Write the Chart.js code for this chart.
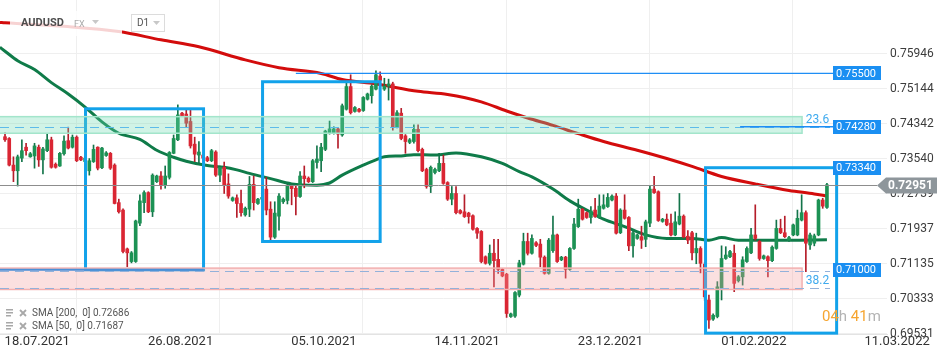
<!DOCTYPE html>
<html>
<head>
<meta charset="utf-8">
<script src="https://cdn.jsdelivr.net/npm/chart.js@4.4.1/dist/chart.umd.min.js"></script>
<style>
  html, body { margin: 0; padding: 0; background: #fff; }
  #wrap { width: 950px; height: 360px; }
</style>
</head>
<body>
<div id="wrap"><canvas id="chart" width="950" height="360"></canvas></div>
<script>
// ---------------- DATA (AUDUSD, D1) ----------------
const opens = [
  .7405,.7401,.7340,.7327,.7356,.7381,.7359,.7361,.7381,.7352,
  .7373,.7398,.7342,.7338,.7366,.7396,.7381,.7404,.7358,.7348,
  .7327,.7348,.7381,.7334,.7362,.7367,.7340,.7254,.7237,.7148,
  .7119,.7119,.7207,.7254,.7277,.7233,.7302,.7315,.7295,.7312,
  .7367,.7398,.7459,.7457,.7440,.7388,.7363,.7363,.7357,.7350,
  .7370,.7317,.7335,.7297,.7259,.7265,.7252,.7226,.7239,.7296,
  .7252,.7262,.7285,.7239,.7175,.7223,.7256,.7259,.7292,.7287,
  .7268,.7315,.7310,.7302,.7346,.7350,.7376,.7414,.7414,.7423,
  .7409,.7468,.7520,.7463,.7468,.7465,.7491,.7499,.7514,.7544,
  .7514,.7521,.7526,.7428,.7459,.7407,.7392,.7394,.7422,.7376,
  .7330,.7291,.7323,.7327,.7344,.7300,.7262,.7275,.7236,.7233,
  .7230,.7224,.7195,.7188,.7130,.7115,.7138,.7124,.7101,.7090,
  .6993,.6994,.7042,.7113,.7165,.7138,.7162,.7159,.7129,.7092,
  .7144,.7180,.7123,.7129,.7101,.7149,.7199,.7239,.7231,.7220,
  .7237,.7220,.7241,.7245,.7260,.7269,.7185,.7237,.7220,.7155,
  .7172,.7176,.7170,.7207,.7285,.7279,.7211,.7216,.7207,.7180,
  .7205,.7223,.7177,.7185,.7139,.7149,.7113,.7031,.6987,.6993,
  .7058,.7126,.7130,.7138,.7075,.7084,.7119,.7139,.7180,.7165,
  .7126,.7130,.7121,.7149,.7195,.7185,.7168,.7180,.7180,.7214,
  .7231,.7157,.7161,.7180,.7260,.7243
];
const highs = [
  .7414,.7403,.7359,.7363,.7398,.7390,.7369,.7390,.7386,.7381,
  .7411,.7404,.7345,.7369,.7407,.7427,.7409,.7407,.7360,.7360,
  .7355,.7386,.7382,.7381,.7371,.7369,.7343,.7262,.7240,.7150,
  .7142,.7214,.7272,.7281,.7279,.7320,.7317,.7325,.7338,.7371,
  .7409,.7478,.7461,.7466,.7466,.7404,.7394,.7366,.7360,.7376,
  .7373,.7338,.7347,.7320,.7267,.7272,.7283,.7244,.7314,.7315,
  .7264,.7290,.7312,.7256,.7256,.7275,.7265,.7298,.7294,.7292,
  .7325,.7338,.7313,.7353,.7384,.7390,.7420,.7441,.7428,.7425,
  .7480,.7528,.7547,.7474,.7470,.7497,.7505,.7524,.7556,.7554,
  .7539,.7537,.7530,.7465,.7470,.7410,.7401,.7432,.7432,.7379,
  .7333,.7338,.7333,.7367,.7363,.7302,.7291,.7291,.7238,.7272,
  .7232,.7226,.7197,.7190,.7132,.7157,.7170,.7170,.7103,.7092,
  .7001,.7050,.7122,.7184,.7184,.7180,.7165,.7170,.7132,.7172,
  .7223,.7182,.7131,.7131,.7151,.7218,.7262,.7241,.7233,.7245,
  .7264,.7272,.7272,.7275,.7272,.7275,.7240,.7272,.7222,.7188,
  .7182,.7200,.7214,.7292,.7314,.7281,.7218,.7228,.7228,.7233,
  .7275,.7226,.7190,.7188,.7184,.7153,.7117,.7042,.6999,.7073,
  .7155,.7153,.7145,.7157,.7087,.7130,.7153,.7195,.7249,.7168,
  .7134,.7132,.7155,.7214,.7216,.7223,.7177,.7205,.7237,.7272,
  .7235,.7184,.7182,.7262,.7264,.7298
];
const lows = [
  .7394,.7338,.7302,.7292,.7348,.7363,.7358,.7333,.7337,.7320,
  .7371,.7333,.7333,.7337,.7363,.7377,.7379,.7348,.7350,.7345,
  .7317,.7346,.7329,.7332,.7360,.7330,.7251,.7230,.7139,.7107,
  .7116,.7117,.7201,.7231,.7231,.7222,.7300,.7285,.7287,.7308,
  .7366,.7396,.7451,.7428,.7379,.7348,.7344,.7354,.7348,.7348,
  .7314,.7302,.7275,.7264,.7257,.7220,.7223,.7223,.7222,.7237,
  .7250,.7255,.7226,.7168,.7172,.7191,.7252,.7251,.7249,.7226,
  .7266,.7288,.7300,.7300,.7333,.7325,.7373,.7411,.7411,.7379,
  .7406,.7466,.7457,.7461,.7461,.7463,.7489,.7482,.7512,.7520,
  .7511,.7489,.7420,.7425,.7398,.7367,.7389,.7390,.7370,.7325,
  .7287,.7277,.7320,.7325,.7296,.7259,.7249,.7228,.7228,.7220,
  .7207,.7191,.7172,.7116,.7113,.7111,.7061,.7092,.7084,.6991,
  .6991,.6991,.7038,.7111,.7134,.7136,.7153,.7107,.7090,.7090,
  .7140,.7117,.7121,.7081,.7099,.7147,.7197,.7214,.7218,.7207,
  .7220,.7218,.7239,.7243,.7258,.7182,.7183,.7216,.7144,.7129,
  .7170,.7149,.7153,.7199,.7275,.7211,.7209,.7201,.7178,.7178,
  .7203,.7173,.7160,.7123,.7114,.7093,.7030,.6966,.6984,.6990,
  .7031,.7124,.7128,.7050,.7072,.7065,.7117,.7137,.7168,.7122,
  .7124,.7084,.7119,.7147,.7183,.7174,.7165,.7178,.7178,.7212,
  .7096,.7147,.7155,.7178,.7241,.7241
];
const closes = [
  .7398,.7340,.7327,.7359,.7373,.7373,.7366,.7384,.7352,.7377,
  .7398,.7335,.7335,.7367,.7395,.7379,.7404,.7350,.7352,.7356,
  .7350,.7376,.7333,.7379,.7368,.7333,.7252,.7233,.7142,.7139,
  .7139,.7212,.7258,.7277,.7233,.7317,.7315,.7295,.7315,.7369,
  .7401,.7455,.7453,.7436,.7384,.7365,.7370,.7356,.7350,.7373,
  .7317,.7335,.7295,.7269,.7265,.7252,.7231,.7241,.7296,.7254,
  .7262,.7266,.7237,.7175,.7230,.7269,.7262,.7292,.7286,.7268,
  .7315,.7309,.7302,.7350,.7354,.7381,.7418,.7423,.7423,.7411,
  .7476,.7520,.7460,.7472,.7463,.7495,.7503,.7521,.7547,.7534,
  .7521,.7526,.7428,.7460,.7401,.7394,.7398,.7422,.7373,.7327,
  .7291,.7335,.7330,.7344,.7298,.7262,.7275,.7231,.7230,.7222,
  .7222,.7193,.7184,.7119,.7115,.7138,.7121,.7101,.7086,.7000,
  .6999,.7048,.7116,.7165,.7138,.7172,.7156,.7129,.7092,.7168,
  .7180,.7119,.7129,.7101,.7149,.7205,.7239,.7216,.7220,.7235,
  .7222,.7246,.7249,.7266,.7269,.7184,.7237,.7218,.7155,.7185,
  .7180,.7168,.7210,.7285,.7277,.7213,.7216,.7203,.7180,.7210,
  .7223,.7175,.7168,.7139,.7149,.7115,.7038,.6985,.6996,.7061,
  .7126,.7134,.7142,.7069,.7084,.7123,.7149,.7180,.7172,.7126,
  .7132,.7121,.7152,.7195,.7185,.7176,.7174,.7203,.7218,.7231,
  .7161,.7180,.7178,.7260,.7246,.7295
];

// moving averages, read at [candle index, value]
const sma200 = [
  [-1.2,.7667],[0,.7666],[14,.7658],[27,.7646],[37,.7627],[46,.7611],[57,.7581],
  [65,.7563],[75,.7550],[80,.7536],[88,.7526],[98,.7509],[105,.7502],[113,.7485],
  [119,.7464],[124,.7448],[130,.7431],[136,.7412],[142,.7394],[150,.7374],[157,.7355],
  [163,.7337],[170,.7314],[178,.7297],[186,.7282],[192,.7274],[195,.7269]
];
const sma50 = [
  [-1.2,.7610],[0,.7601],[3,.7579],[7,.7559],[11,.7529],[15,.7503],[19,.7473],[23,.7439],
  [27,.7413],[32,.7399],[36,.7374],[40,.7358],[43,.7349],[48,.7339],[52,.7335],[55,.7329],
  [58,.7321],[63,.7309],[68,.7297],[74,.7294],[77,.7299],[80,.7317],[85,.7340],[88,.7352],
  [90,.7359],[94,.7361],[97,.7364],[102,.7363],[107,.7368],[113,.7359],[118,.7344],
  [122,.7325],[125,.7313],[130,.7285],[134,.7258],[138,.7237],[142,.7216],[147,.7199],
  [152,.7180],[157,.7172],[163,.7172],[167,.7168],[170,.7174],[174,.7168],[178,.7168],
  [186,.7168],[195,.7169]
];

const dateLabels = ["18.07.2021","26.08.2021","05.10.2021","14.11.2021","23.12.2021","01.02.2022","11.03.2022"];
const dateTicks = [-0.1, 33.9, 67.9, 101.9, 135.9, 169.9, 203.9];
const priceTicks = [0.69531,0.70333,0.71135,0.71937,0.72739,0.73540,0.74342,0.75144,0.75946];
const priceLabels = ["0.69531","0.70333","0.71135","0.71937","0.72739","0.73540","0.74342","0.75144","0.75946"];

// drawn objects: boxes [from idx, to idx, low, high], zones [low, high]
const boxes = [[19.1, 47.1, 0.7100, 0.7469], [61.1, 89.0, 0.7165, 0.7531], [166.2, 197.3, 0.6955, 0.7334]];
const zoneGreen = [0.7413, 0.7451];
const zoneRed = [0.7055, 0.7104];
const zoneEnd = 189.1;
const levels = [0.7550, 0.7428, 0.7334, 0.7100];
const levelLabels = ["0.75500", "0.74280", "0.73340", "0.71000"];
const levelFrom = [69.0, 174.4, null, null];
const fibLevels = [0.7428, 0.7059];
const fibLabels = ["23.6", "38.2"];
const lastPrice = 0.72951;
const smaLegend = ["SMA [200,  0] 0.72686", "SMA [50,  0] 0.71687"];

// ---------------- BUILD ----------------
const idx = opens.map((_, i) => i);
const isUp = idx.map(i => closes[i] >= opens[i]);
const UP = "#1c9254", DOWN = "#da2633", WICK_UP = "#13744a", WICK_DOWN = "#b51d2a";
const FONT = "Roboto";

const overlays = {
  id: "overlays",
  afterDatasetsDraw(chart) {
    const { ctx, chartArea: a, scales: { x: xs, y: ys } } = chart;
    const px = v => xs.getPixelForValue(v), py = v => ys.getPixelForValue(v);
    const tagLeft = a.right - 54;
    ctx.save();

    // blue boxes
    ctx.strokeStyle = "#12a2ea";
    ctx.lineWidth = 3;
    boxes.forEach(([i0, i1, lo, hi]) => {
      ctx.strokeRect(px(i0), py(hi), px(i1) - px(i0), py(lo) - py(hi));
    });

    // zones
    const zr = px(zoneEnd);
    [[zoneGreen, "rgba(110,218,176,0.32)", "#a3e5cb"], [zoneRed, "rgba(244,160,160,0.32)", "#f3b0b0"]].forEach(([z, fill, edge]) => {
      const top = py(z[1]), bot = py(z[0]);
      ctx.fillStyle = fill;
      ctx.fillRect(a.left, top, zr - a.left, bot - top);
      ctx.strokeStyle = edge;
      ctx.lineWidth = 1.5;
      ctx.strokeRect(a.left - 2, top, zr - a.left + 2, bot - top);
    });

    // fib dashed lines
    ctx.lineWidth = 1;
    ctx.setLineDash([9, 6]);
    const hline = (y, x0, x1) => { ctx.beginPath(); ctx.moveTo(x0, y); ctx.lineTo(x1, y); ctx.stroke(); };
    ctx.strokeStyle = "#5dbbe9";
    hline(Math.round(py(fibLevels[0])) + 0.5, a.left, tagLeft - 3);
    ctx.strokeStyle = "#93b1da";
    hline(Math.round(py(fibLevels[1])) + 0.5, a.left, tagLeft - 3);
    hline(Math.round(py(levels[3]) + 1) + 0.5, a.left, tagLeft - 3);
    ctx.setLineDash([]);

    // fib labels
    ctx.font = "12px " + FONT;
    ctx.fillStyle = "#3eaaee";
    ctx.textBaseline = "alphabetic";
    ctx.textAlign = "left";
    fibLabels.forEach((t, k) => ctx.fillText(t, px(190.0), py(fibLevels[k]) - 4));

    // solid level lines
    ctx.strokeStyle = "#1f8ef5";
    ctx.lineWidth = 1.3;
    hline(py(levels[0]), px(levelFrom[0]), tagLeft);
    ctx.lineWidth = 1.5;
    hline(py(levels[1]), px(levelFrom[1]), tagLeft);
    ctx.strokeStyle = "#4a8fd8";
    ctx.lineWidth = 2;
    hline(py(levels[3]), a.left, px(boxes[0][1]));

    // last price line
    ctx.strokeStyle = "#8d8d8d";
    ctx.lineWidth = 1;
    hline(Math.round(py(lastPrice)) + 0.5, a.left, a.right - 10);
    ctx.restore();
  },
  afterDraw(chart) {
    const { ctx, chartArea: a, scales: { y: ys } } = chart;
    const py = v => ys.getPixelForValue(v);
    const tagLeft = a.right - 54;
    ctx.save();

    // level tags
    ctx.font = "11px " + FONT;
    ctx.textBaseline = "middle";
    ctx.textAlign = "left";
    levels.forEach((v, k) => {
      const y = py(v);
      ctx.fillStyle = "#1a8ff2";
      ctx.fillRect(tagLeft, Math.round(y) - 7, 48, 14);
      ctx.fillStyle = "#fff";
      ctx.fillText(levelLabels[k], tagLeft + 3, y + 0.5);
    });

    // last price tag
    const yp = Math.round(py(lastPrice)) + 0.5;
    ctx.fillStyle = "#8e969b";
    ctx.beginPath();
    ctx.moveTo(a.right - 10, yp);
    ctx.lineTo(a.right - 1, yp - 8);
    ctx.lineTo(a.right + 50, yp - 8);
    ctx.lineTo(a.right + 50, yp + 8);
    ctx.lineTo(a.right - 1, yp + 8);
    ctx.closePath();
    ctx.fill();
    ctx.fillStyle = "#fff";
    ctx.font = "bold 12px " + FONT;
    ctx.fillText(lastPrice.toFixed(5), a.right + 1, yp + 0.5);

    // candle timer
    ctx.font = "15px " + FONT;
    ctx.textBaseline = "alphabetic";
    let tx = 822;
    [["04", "#f6a530"], ["h ", "#b3b3b3"], ["41", "#f6a530"], ["m", "#b3b3b3"]].forEach(([t, c]) => {
      ctx.fillStyle = c;
      ctx.fillText(t, tx, 321);
      tx += ctx.measureText(t).width;
    });

    // top-left instrument legend
    ctx.fillStyle = "rgba(255,255,255,0.82)";
    ctx.fillRect(10, 11, 112, 25);
    ctx.textBaseline = "middle";
    ctx.font = "bold 11px " + FONT;
    ctx.fillStyle = "#4d4d4d";
    ctx.fillText("AUDUSD", 21, 23.5);
    ctx.font = "9px " + FONT;
    ctx.fillStyle = "#aaaaaa";
    ctx.fillText("FX", 74, 24.5);
    const tri = (x, y) => { ctx.beginPath(); ctx.moveTo(x, y); ctx.lineTo(x + 7, y); ctx.lineTo(x + 3.5, y + 4); ctx.closePath(); ctx.fill(); };
    ctx.fillStyle = "#c8c8c8";
    tri(92, 20);
    ctx.fillStyle = "#fff";
    ctx.fillRect(131.5, 14.5, 33, 17);
    ctx.strokeStyle = "#dcdcdc";
    ctx.lineWidth = 1;
    ctx.strokeRect(131.5, 14.5, 33, 17);
    ctx.font = "10px " + FONT;
    ctx.fillStyle = "#555";
    ctx.fillText("D1", 137, 23.5);
    ctx.fillStyle = "#c8c8c8";
    tri(153, 21);

    // bottom-left indicator legend
    smaLegend.forEach((t, k) => {
      const y = 313 + k * 13;
      ctx.fillStyle = "#a8a8a8";
      ctx.fillRect(6, y - 4, 7, 1.5);
      ctx.fillRect(6, y - 1, 7, 1.5);
      ctx.fillRect(6, y + 2, 5, 1.5);
      ctx.strokeStyle = "#a8a8a8";
      ctx.lineWidth = 1.8;
      ctx.beginPath();
      ctx.moveTo(20, y - 3); ctx.lineTo(26, y + 3);
      ctx.moveTo(26, y - 3); ctx.lineTo(20, y + 3);
      ctx.stroke();
      ctx.font = "10px " + FONT;
      ctx.fillStyle = "#555";
      ctx.fillText(t, 32, y + 0.5);
    });
    ctx.restore();
  }
};

new Chart(document.getElementById("chart"), {
  type: "bar",
  data: {
    datasets: [
      {
        type: "line",
        data: sma50.map(([x, y]) => ({ x, y })),
        borderColor: "#0f7b49",
        borderWidth: 3,
        pointRadius: 0,
        cubicInterpolationMode: "monotone",
        order: 5
      },
      {
        type: "line",
        data: sma200.map(([x, y]) => ({ x, y })),
        borderColor: "#d30c0c",
        borderWidth: 3,
        pointRadius: 0,
        cubicInterpolationMode: "monotone",
        order: 4
      },
      {
        data: idx.map(i => ({ x: i, y: [lows[i], highs[i]] })),
        backgroundColor: idx.map(i => isUp[i] ? WICK_UP : WICK_DOWN),
        barThickness: 1,
        grouped: false,
        order: 3
      },
      {
        data: idx.map(i => ({ x: i, y: [opens[i], closes[i]] })),
        backgroundColor: idx.map(i => isUp[i] ? UP : DOWN),
        barThickness: 3,
        grouped: false,
        order: 2
      }
    ]
  },
  options: {
    responsive: false,
    animation: false,
    devicePixelRatio: 1,
    layout: { padding: 0, autoPadding: false },
    plugins: { legend: { display: false }, tooltip: { enabled: false } },
    scales: {
      x: {
        type: "linear",
        position: "bottom",
        min: -1.19,
        max: 209.25,
        offset: false,
        grid: { color: "#efefef", drawTicks: false },
        border: { display: true, color: "#e3e3e3" },
        ticks: {
          autoSkip: false, maxRotation: 0, align: "start", padding: 0,
          color: "#333", font: { family: FONT, size: 13 },
          callback: (v, i) => dateLabels[i]
        },
        afterBuildTicks: s => { s.ticks = dateTicks.map(v => ({ value: v })); },
        afterFit: s => { s.height = 26; s.paddingLeft = 0; s.paddingRight = 0; }
      },
      y: {
        type: "linear",
        position: "right",
        min: 0.69530,
        max: 0.77183,
        grid: { color: "#efefef", drawTicks: false },
        border: { display: false },
        ticks: {
          autoSkip: false, padding: 3,
          color: "#3c3c3c", font: { family: FONT, size: 12 },
          callback: (v, i) => priceLabels[i]
        },
        afterBuildTicks: s => { s.ticks = priceTicks.map(v => ({ value: v })); },
        afterFit: s => { s.width = 63; s.paddingTop = 0; s.paddingBottom = 0; }
      }
    }
  },
  plugins: [overlays]
});
</script>
</body>
</html>
